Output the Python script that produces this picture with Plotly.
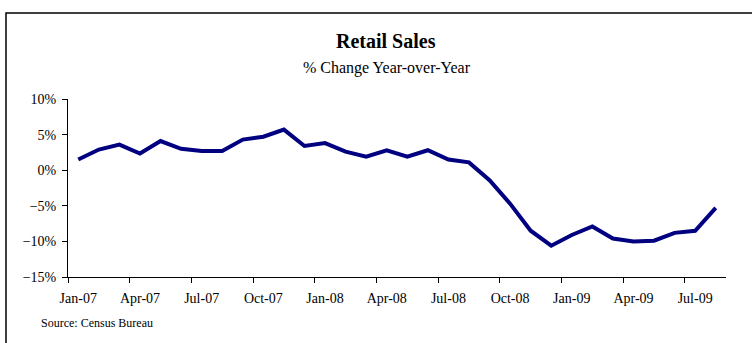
import plotly.graph_objects as go

months = ["Jan-07","Feb-07","Mar-07","Apr-07","May-07","Jun-07","Jul-07","Aug-07","Sep-07","Oct-07","Nov-07","Dec-07",
          "Jan-08","Feb-08","Mar-08","Apr-08","May-08","Jun-08","Jul-08","Aug-08","Sep-08","Oct-08","Nov-08","Dec-08",
          "Jan-09","Feb-09","Mar-09","Apr-09","May-09","Jun-09","Jul-09","Aug-09"]
yoy_pct = [1.5, 2.9, 3.6, 2.35, 4.1, 3.0, 2.7, 2.7, 4.3, 4.7, 5.7, 3.4,
           3.8, 2.6, 1.9, 2.8, 1.9, 2.8, 1.5, 1.1, -1.4, -4.7, -8.5, -10.6,
           -9.1, -7.9, -9.6, -10.0, -9.9, -8.8, -8.5, -5.3]

W, H = 752, 343
L, R, T, B = 68, 26, 99, 66
pw, ph = W - L - R, H - T - B

def px(x):
    return (x - L) / pw

def py(y):
    return (H - B - y) / ph

font = "Liberation Serif, Times New Roman, serif"

fig = go.Figure(go.Scatter(x=months, y=yoy_pct, mode="lines",
                           line=dict(color="#000080", width=4), hoverinfo="skip"))

fig.update_layout(
    width=W, height=H, margin=dict(l=L, r=R, t=T, b=B),
    paper_bgcolor="white", plot_bgcolor="white", showlegend=False,
    font=dict(family=font, size=14, color="black"),
    xaxis=dict(type="category", tickson="boundaries", dtick=3, tick0=0, tickangle=0,
               ticks="outside", ticklen=5, tickcolor="black", showline=True,
               linecolor="black", linewidth=1, showgrid=False, zeroline=False,
               tickfont=dict(size=14), ticklabelstandoff=8,
               range=[-0.5, 31.5], fixedrange=True),
    yaxis=dict(range=[-15, 10], dtick=5, ticksuffix="%", ticks="outside", ticklen=5,
               tickcolor="black", showline=True, linecolor="black", linewidth=1,
               showgrid=False, zeroline=False, tickfont=dict(size=14),
               ticklabelstandoff=3, fixedrange=True),
    shapes=[dict(type="rect", xref="paper", yref="paper",
                 x0=px(6), x1=px(W + 10), y0=py(H + 10), y1=py(13),
                 line=dict(color="black", width=1.5))],
    annotations=[
        dict(text="<b>Retail Sales</b>", xref="paper", yref="paper", x=px(386), y=py(41),
             showarrow=False, xanchor="center", yanchor="middle", font=dict(size=20)),
        dict(text="% Change Year-over-Year", xref="paper", yref="paper", x=px(387), y=py(68),
             showarrow=False, xanchor="center", yanchor="middle", font=dict(size=16)),
        dict(text="Source: Census Bureau", xref="paper", yref="paper", x=px(39), y=py(323),
             showarrow=False, xanchor="left", yanchor="middle", font=dict(size=12)),
    ],
)

fig.write_html("out.html")
